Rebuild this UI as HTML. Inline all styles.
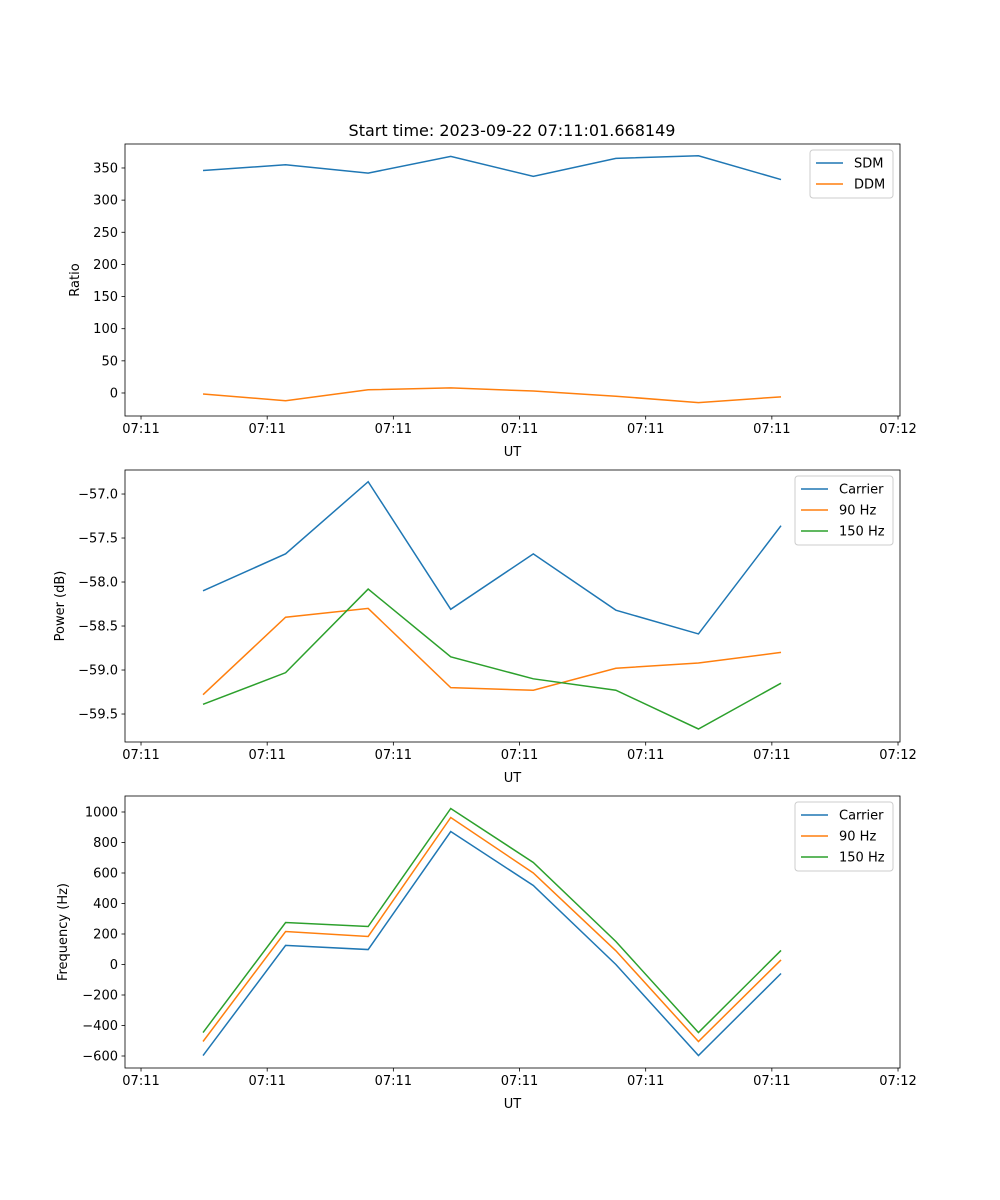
<!DOCTYPE html>
<html><head><meta charset="utf-8"><style>
body{margin:0;background:#fff;}
svg{display:block;font-family:"DejaVu Sans","Liberation Sans",sans-serif;}
</style></head><body>
<svg id="fig" width="1000" height="1200" viewBox="0 0 1000 1200" xmlns="http://www.w3.org/2000/svg">
<rect width="1000" height="1200" fill="#fff"/>
<text x="512" y="136" text-anchor="middle" font-size="16">Start time: 2023-09-22 07:11:01.668149</text>
</svg>
<script>
const xIndex = [0,1,2,3,4,5,6,7];
const xTickLabels = ["07:11","07:11","07:11","07:11","07:11","07:11","07:12"];
const sdm = [346,355,342,368,337,365,369,332];
const ddm = [-1.5,-12,5,8,3,-5,-15,-6];
const powCarrier = [-58.10,-57.68,-56.86,-58.31,-57.68,-58.32,-58.59,-57.36];
const pow90 = [-59.28,-58.40,-58.30,-59.20,-59.23,-58.98,-58.92,-58.80];
const pow150 = [-59.39,-59.03,-58.08,-58.85,-59.10,-59.23,-59.67,-59.15];
const freqCarrier = [-597,125,98,872,518,0,-597,-59];
const freq90 = [-505,216,184,964,600,90,-505,30];
const freq150 = [-446,275,249,1023,669,151,-446,92];
const ratioTicks = [0,50,100,150,200,250,300,350];
const powerTicks = [-59.5,-59.0,-58.5,-58.0,-57.5,-57.0];
const freqTicks = [-600,-400,-200,0,200,400,600,800,1000];

const NS="http://www.w3.org/2000/svg";
const svg=document.getElementById('fig');
const C1="#1f77b4",C2="#ff7f0e",C3="#2ca02c";
const L=125,R=900,XMIN=-0.945,XMAX=8.441;
const xTickStart=-0.751,xTickStep=1.528;
function xs(v){return L+(v-XMIN)/(XMAX-XMIN)*(R-L);}
function mk(tag,attrs,parent){const e=document.createElementNS(NS,tag);for(const k in attrs)e.setAttribute(k,attrs[k]);(parent||svg).appendChild(e);return e;}

function panel(name,top,bot,ymin,ymax,ticks,fmt,ylabel,ylabelX,series,legend){
  const g=mk('g',{});
  
  
  const ys=v=>bot-(v-ymin)/(ymax-ymin)*(bot-top);
  series.forEach(s=>{
    const p=mk('polyline',{points:s.data.map((v,i)=>xs(xIndex[i])+','+ys(v)).join(' '),fill:'none',stroke:s.color,'stroke-width':1.5},g);
    
    
  });
  const fr=mk('rect',{x:L,y:top,width:R-L,height:bot-top,fill:'none',stroke:'#000','stroke-width':0.8},g);
  
  
  ticks.forEach(t=>{
    const y=ys(t);
    mk('line',{x1:L-3.5,x2:L,y1:y,y2:y,stroke:'#000','stroke-width':0.8},g);
    const tx=mk('text',{x:L-7,y:y+4.5,'text-anchor':'end','font-size':13},g);
    tx.textContent=fmt(t);
    
    
  });
  xTickLabels.forEach((lab,k)=>{
    const x=xs(xTickStart+k*xTickStep);
    mk('line',{x1:x,x2:x,y1:bot,y2:bot+3.5,stroke:'#000','stroke-width':0.8},g);
    const tx=mk('text',{x:x,y:bot+17,'text-anchor':'middle','font-size':13},g);
    tx.textContent=lab;
    
    
  });
  const xl=mk('text',{x:(L+R)/2,y:bot+40,'text-anchor':'middle','font-size':13},g);
  xl.textContent='UT';
  
  
  const yc=(top+bot)/2;
  const yl=mk('text',{x:ylabelX,y:yc,'text-anchor':'middle','font-size':13,transform:'rotate(-90 '+ylabelX+' '+yc+')'},g);
  yl.textContent=ylabel;
  
  
  const lg=mk('g',{},g);
  
  
  mk('rect',{x:legend.x,y:top+6,width:893-legend.x,height:series.length*21+6,rx:3,fill:'#fff','fill-opacity':0.8,stroke:'#ccc','stroke-width':1},lg);
  series.forEach((s,i)=>{
    const yy=top+19+i*21;
    mk('line',{x1:legend.x+6,x2:legend.x+33,y1:yy,y2:yy,stroke:s.color,'stroke-width':1.5},lg);
    const t=mk('text',{x:legend.x+44,y:yy+4.5,'font-size':13},lg);
    t.textContent=s.label;
    
    
  });
}
panel('ratio',144,416,-35.8,387.3,ratioTicks,v=>String(v),'Ratio',79,
  [{key:'sdm',label:'SDM',color:C1,data:sdm},{key:'ddm',label:'DDM',color:C2,data:ddm}],{x:810});
panel('power',470,742,-59.818,-56.727,powerTicks,v=>v.toFixed(1).replace('-','\u2212'),'Power (dB)',64,
  [{key:'carrier',label:'Carrier',color:C1,data:powCarrier},{key:'90hz',label:'90 Hz',color:C2,data:pow90},{key:'150hz',label:'150 Hz',color:C3,data:pow150}],{x:795});
panel('frequency',796,1068,-678.7,1104.9,freqTicks,v=>String(v).replace('-','\u2212'),'Frequency (Hz)',67,
  [{key:'carrier',label:'Carrier',color:C1,data:freqCarrier},{key:'90hz',label:'90 Hz',color:C2,data:freq90},{key:'150hz',label:'150 Hz',color:C3,data:freq150}],{x:795});
</script>
</body></html>
